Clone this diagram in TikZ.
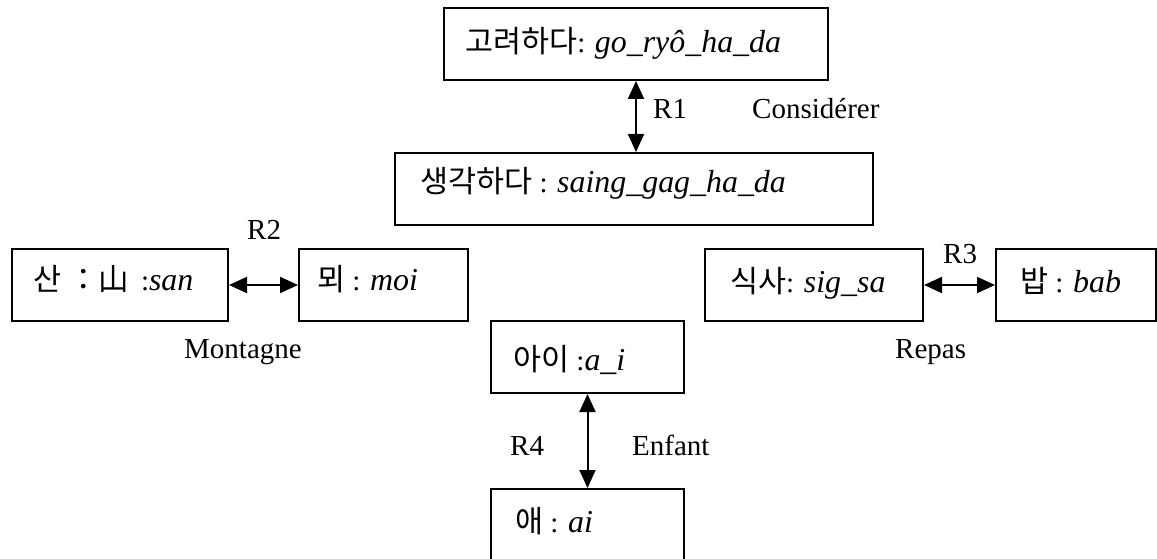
\documentclass[tikz,border=0pt]{standalone}
\usepackage{fontspec}
\setmainfont{Liberation Serif}[ItalicFeatures={Scale=1.1}]
\newfontfamily\kr[Scale=1.05]{Noto Sans CJK KR}
\usetikzlibrary{arrows.meta,fit}
\tikzset{
  box/.style={draw, line width=2pt, inner sep=0pt, fill=none},
  txt/.style={anchor=base west, inner sep=0pt, font=\fontsize{29}{35}\selectfont},
  rel/.style={line width=2pt, {Triangle[length=18pt,width=16pt]}-{Triangle[length=18pt,width=16pt]}}
}
\begin{document}
\begin{tikzpicture}[x=1pt,y=-1pt]
\fill[white] (0,0) rectangle (1157,559);
\useasboundingbox (0,0) rectangle (1157,559);
\clip (0,0) rectangle (1157,559);
% boxes
\node[box, fit={(444,8) (828,80)}] (b1) {};
\node[box, fit={(395,153) (873,225)}] (b2) {};
\node[box, fit={(12,249) (228,321)}] (b3) {};
\node[box, fit={(299,249) (468,321)}] (b4) {};
\node[box, fit={(705,249) (923,321)}] (b5) {};
\node[box, fit={(996,249) (1156,321)}] (b6) {};
\node[box, fit={(491,321) (684,393)}] (b7) {};
\node[box, fit={(491,489) (684,563)}] (b8) {};
% box texts
\node[txt] (t1) at (465,53) {{\kr 고려하다}: \textit{go\_ryô\_ha\_da}};
\node[txt] (t2) at (420,193) {{\kr 생각하다} : \textit{saing\_gag\_ha\_da}};
\node[txt] (t3) at (33,290) {{\kr 산 ：山}\, :\textit{san}};
\node[txt] (t4) at (317,290) {{\kr 뫼} : \textit{moi}};
\node[txt] (t5) at (730,292) {{\kr 식사}: \textit{sig\_sa}};
\node[txt] (t6) at (1020,292) {{\kr 밥} : \textit{bab}};
\node[txt] (t7) at (513,370) {{\kr 아이} :\textit{a\_i}};
\node[txt] (t8) at (515,532) {{\kr 애} : \textit{ai}};
% connectors
\draw[rel] (b1.south) -- (b1.south |- b2.north);
\draw[rel] (b3) -- (b4);
\draw[rel] (b5) -- (b6);
\draw[rel] (b7.south) -- (b8.north);
% labels
\node[txt] (r1) at (653,119) {R1};
\node[txt] (l1) at (752,119) {Considérer};
\node[txt] (r2) at (247,239) {R2};
\node[txt] (l2) at (184,358) {Montagne};
\node[txt] (r3) at (943,263) {R3};
\node[txt] (l3) at (895,358) {Repas};
\node[txt] (r4) at (510,455) {R4};
\node[txt] (l4) at (632,455) {Enfant};
\end{tikzpicture}
\end{document}
